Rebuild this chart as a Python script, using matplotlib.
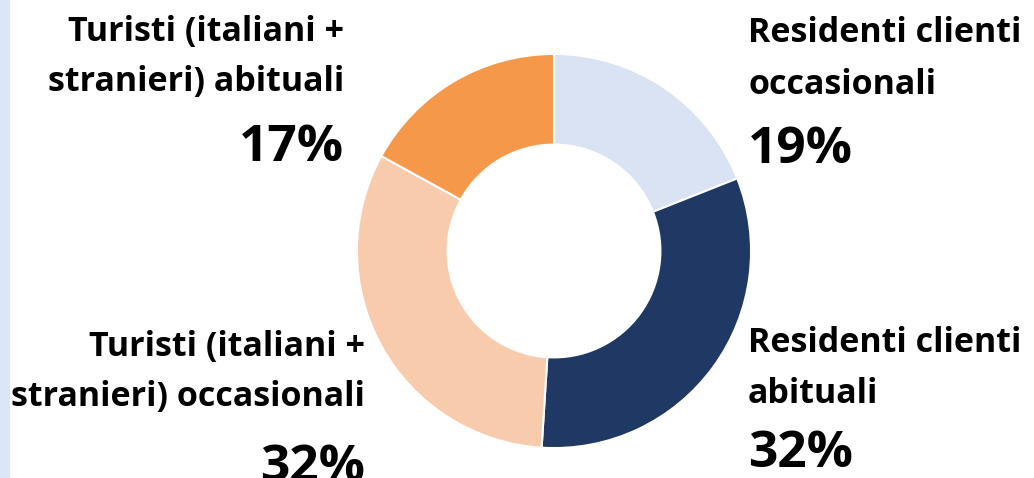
import matplotlib.pyplot as plt
from matplotlib.patches import Rectangle

# data
categorie = ["Residenti clienti\noccasionali", "Residenti clienti\nabituali",
             "Turisti (italiani +\nstranieri) occasionali", "Turisti (italiani +\nstranieri) abituali"]
quote = [19, 32, 32, 17]
colori = ["#DAE3F3", "#203864", "#F8CBAD", "#F5984A"]

W, H = 1034, 478
fig = plt.figure(figsize=(W / 100, H / 100), dpi=100)
fig.patch.set_facecolor("white")

# striscia azzurra a sinistra
fig.patches.append(Rectangle((0, 0), 10 / W, 1, transform=fig.transFigure,
                             facecolor="#DAE7F6", edgecolor="none"))

# donut
cx, cy, r = 554, 251, 201
ax = fig.add_axes([(cx - r) / W, (H - cy - r) / H, 2 * r / W, 2 * r / H])
ax.pie(quote, colors=colori, startangle=90, counterclock=False, radius=1,
       wedgeprops=dict(width=0.46, edgecolor="white", linewidth=1.5))
ax.set_xlim(-1.02, 1.02)
ax.set_ylim(-1.02, 1.02)
ax.set_aspect("equal")
ax.axis("off")

font = "Open Sans"

def etichetta(x, y1, y2, yp, testo, pct, ha):
    # y in pixel dall'alto = baseline di ogni riga
    r1, r2 = testo.split("\n")
    for riga, y in ((r1, y1), (r2, y2)):
        fig.text(x / W, 1 - y / H, riga, ha=ha, va="baseline",
                 fontsize=24.5, fontweight="bold", family=font, color="black")
    fig.text(x / W, 1 - yp / H, "%d%%" % pct, ha=ha, va="baseline",
             fontsize=37, fontweight="bold", family=font, color="black")

etichetta(748, 42, 94, 163, categorie[0], quote[0], "left")
etichetta(748, 352, 403, 467, categorie[1], quote[1], "left")
etichetta(365, 356, 406, 481, categorie[2], quote[2], "right")
etichetta(344, 41, 91, 161, categorie[3], quote[3], "right")

fig.savefig("out.png", dpi=100, facecolor="white")
